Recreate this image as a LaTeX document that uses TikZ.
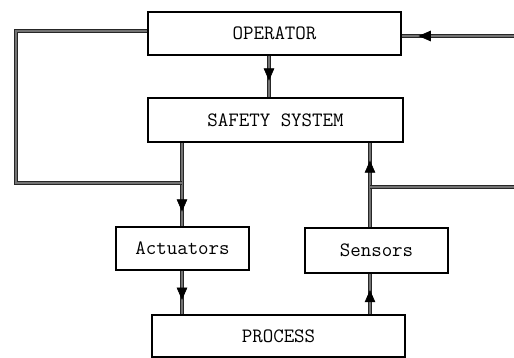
\documentclass[tikz,border=0pt]{standalone}
\usetikzlibrary{arrows.meta,decorations.markings}
\tikzset{
  block/.style={draw, line width=0.7pt, font=\ttfamily\fontsize{11.6}{14}\selectfont, inner sep=0pt},
  link/.style={draw=black!85, double=black!55, double distance=0.6pt, line width=0.6pt},
  midarrow/.style={postaction={decorate}, decoration={markings,
      mark=at position #1 with {\arrow[black, line width=0.4pt]{Triangle[length=7pt,width=6pt]}}}}
}
\begin{document}
\begin{tikzpicture}[x=0.02cm, y=-0.02cm]
\useasboundingbox (0,0) rectangle (514,358);
% blocks
\node[block, minimum width=5.06cm, minimum height=0.86cm] (op) at (274.5,33.5) {OPERATOR};
\node[block, minimum width=5.10cm, minimum height=0.88cm] (safe) at (275.5,120) {SAFETY SYSTEM};
\node[block, minimum width=2.66cm, minimum height=0.86cm] (act) at (182.5,248.5) {Actuators};
\node[block, minimum width=2.86cm, minimum height=0.90cm] (sens) at (376.5,250.5) {Sensors};
\node[block, minimum width=5.06cm, minimum height=0.84cm] (proc) at (278.5,336) {PROCESS};
% junctions and outside ends
\coordinate (jl) at (182,183);
\coordinate (jr) at (370,187);
\coordinate (in1) at (514,36);
\coordinate (in2) at (514,187);
% connectors
\draw[link, midarrow=0.6] (op.south -| 269,0) -- (safe.north -| 269,0);
\draw[link] (safe.south -| jl) -- (jl);
\draw[link, midarrow=0.66] (jl) -- (act.north -| jl);
\draw[link, midarrow=0.67] (act.south -| 182,0) -- (proc.north -| 182,0);
\draw[link, midarrow=0.6] (proc.north -| jr) -- (sens.south -| jr);
\draw[link, midarrow=0.79] (sens.north -| jr) -- (safe.south -| jr);
\draw[link] (in2) -- (jr);
\draw[link] (op.west |- 0,31) -- (16,31) |- (jl);
\draw[link, midarrow=0.85] (in1) -- (op.east |- in1);
\end{tikzpicture}
\end{document}
